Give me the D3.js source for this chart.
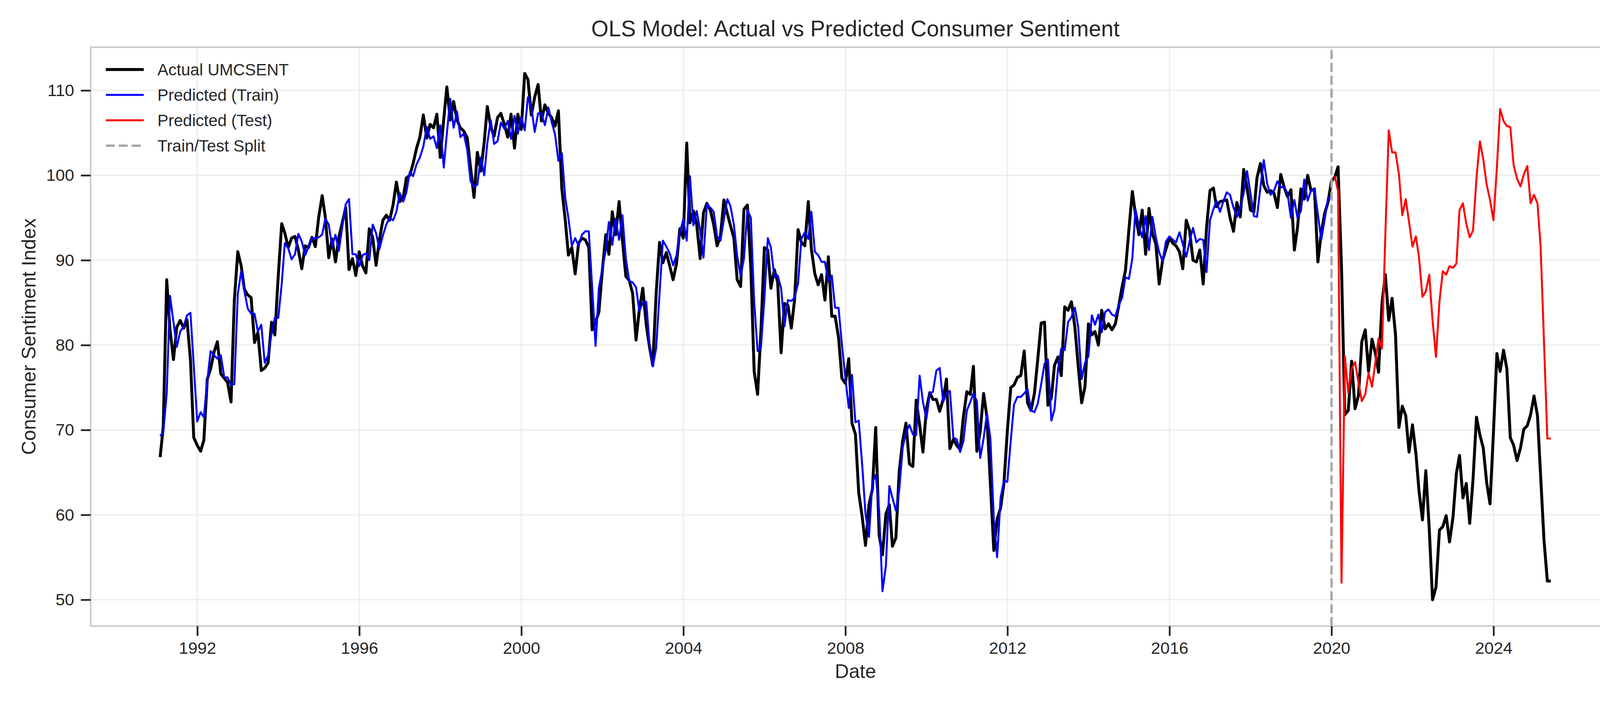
<!DOCTYPE html>
<html>
<head>
<meta charset="utf-8">
<script src="https://cdn.jsdelivr.net/npm/d3@7"></script>
<style>
  body { margin: 0; background: #fff; }
  svg { display: block; font-family: 'Liberation Sans', Arial, sans-serif; }
</style>
</head>
<body>
<div id="chart"></div>
<script>
const startYear = 1991;
const splitYear = 2020;
const yearTicks = [1992, 1996, 2000, 2004, 2008, 2012, 2016, 2020, 2024];
const valueTicks = [50, 60, 70, 80, 90, 100, 110];
const seriesNames = ['Actual UMCSENT', 'Predicted (Train)', 'Predicted (Test)', 'Train/Test Split'];

// monthly index, Jan 1991 - May 2025
const actual = [
  66.8, 70.4, 87.7, 81.8, 78.3, 82.1, 82.9, 82.0, 83.0, 78.3, 69.1, 68.2,
  67.5, 68.8, 76.0, 77.2, 79.2, 80.4, 76.6, 76.1, 75.6, 73.3, 85.3, 91.0,
  89.3, 86.6, 85.9, 85.6, 80.3, 81.5, 77.0, 77.3, 77.9, 82.7, 81.2, 88.2,
  94.3, 93.2, 91.5, 92.6, 92.8, 91.2, 89.0, 91.7, 91.5, 92.7, 91.6, 95.1,
  97.6, 95.1, 90.3, 92.5, 89.8, 92.7, 94.4, 96.2, 88.9, 90.2, 88.2, 91.0,
  89.3, 88.5, 93.7, 92.7, 89.4, 92.4, 94.7, 95.3, 94.7, 96.5, 99.2, 96.9,
  97.4, 99.7, 100.0, 101.4, 103.2, 104.5, 107.1, 104.4, 106.0, 105.6, 107.2, 102.1,
  106.6, 110.4, 106.5, 108.7, 106.5, 105.6, 105.2, 104.4, 100.9, 97.4, 102.7, 100.5,
  103.9, 108.1, 105.7, 104.6, 106.8, 107.3, 106.0, 104.5, 107.2, 103.2, 107.2, 105.4,
  112.0, 111.3, 107.1, 109.2, 110.7, 106.4, 108.3, 107.3, 106.8, 105.8, 107.6, 98.4,
  94.7, 90.6, 91.5, 88.4, 92.0, 92.6, 92.4, 91.5, 81.8, 82.7, 83.9, 88.8,
  93.0, 90.7, 95.7, 93.0, 96.9, 92.4, 88.1, 87.6, 86.1, 80.6, 84.2, 86.7,
  82.4, 79.9, 77.6, 86.0, 92.1, 89.7, 90.9, 89.3, 87.7, 89.6, 93.7, 92.6,
  103.8, 94.4, 95.8, 94.2, 90.2, 95.6, 96.7, 95.9, 94.2, 91.7, 92.8, 97.1,
  95.5, 94.1, 92.6, 87.7, 86.9, 96.0, 96.5, 89.1, 76.9, 74.2, 81.6, 91.5,
  91.2, 86.7, 88.9, 87.4, 79.1, 84.9, 84.7, 82.0, 85.4, 93.6, 92.1, 91.7,
  96.9, 91.3, 88.4, 87.1, 88.3, 85.3, 90.4, 83.4, 83.4, 80.9, 76.1, 75.5,
  78.4, 70.8, 69.5, 62.6, 59.8, 56.4, 61.2, 63.0, 70.3, 57.6, 55.3, 60.1,
  61.2, 56.3, 57.3, 65.1, 68.7, 70.8, 66.0, 65.7, 73.5, 70.6, 67.4, 72.5,
  74.4, 73.6, 73.6, 72.2, 73.6, 76.0, 67.8, 68.9, 68.2, 67.7, 71.6, 74.5,
  74.2, 77.5, 67.5, 69.8, 74.3, 71.5, 63.7, 55.8, 59.5, 60.8, 63.7, 69.9,
  75.0, 75.3, 76.2, 76.4, 79.3, 73.2, 72.3, 74.3, 78.3, 82.6, 82.7, 72.9,
  73.8, 77.6, 78.6, 76.4, 84.5, 84.1, 85.1, 82.1, 77.5, 73.2, 75.1, 82.5,
  81.2, 81.6, 80.0, 84.1, 81.9, 82.5, 81.8, 82.5, 84.6, 86.9, 88.8, 93.6,
  98.1, 95.4, 93.0, 95.9, 90.7, 96.1, 93.1, 91.9, 87.2, 90.0, 91.3, 92.6,
  92.0, 91.7, 91.0, 89.0, 94.7, 93.5, 90.0, 89.8, 91.2, 87.2, 93.8, 98.2,
  98.5, 96.3, 96.9, 97.0, 97.1, 95.0, 93.4, 96.8, 95.1, 100.7, 98.5, 95.9,
  95.7, 99.7, 101.4, 98.8, 98.0, 98.2, 97.9, 96.2, 100.1, 98.6, 97.5, 98.3,
  91.2, 93.8, 98.4, 97.2, 100.0, 98.2, 98.4, 89.8, 93.2, 95.5, 96.8, 99.3,
  99.8, 101.0, 89.1, 71.8, 72.3, 78.1, 72.5, 74.1, 80.4, 81.8, 76.9, 80.7,
  79.0, 76.8, 84.9, 88.3, 82.9, 85.5, 81.2, 70.3, 72.8, 71.7, 67.4, 70.6,
  67.2, 62.8, 59.4, 65.2, 58.4, 50.0, 51.5, 58.2, 58.6, 59.9, 56.8, 59.7,
  64.9, 67.0, 62.0, 63.7, 59.0, 64.2, 71.5, 69.4, 67.9, 63.8, 61.3, 69.7,
  79.0, 76.9, 79.4, 77.2, 69.1, 68.2, 66.4, 67.9, 70.1, 70.5, 71.8, 74.0,
  71.7, 64.7, 57.0, 52.2, 52.2
];

// fitted values, Jan 1991 - Dec 2019
const predTrain = [
  69.3, 69.7, 74.3, 85.8, 82.7, 79.8, 81.6, 82.2, 83.5, 83.8, 77.6, 71.0,
  72.1, 71.5, 75.8, 79.3, 78.8, 78.4, 78.8, 76.2, 76.2, 75.3, 75.4, 86.0,
  88.7, 86.4, 84.3, 83.7, 83.7, 81.6, 82.4, 77.9, 78.8, 81.3, 83.2, 83.2,
  87.2, 92.0, 91.4, 90.1, 90.7, 93.1, 92.2, 90.6, 91.6, 92.6, 92.6, 92.7,
  93.0, 94.9, 94.2, 91.6, 93.0, 91.1, 93.9, 96.6, 97.2, 90.7, 90.7, 89.3,
  90.6, 90.8, 90.0, 94.2, 93.2, 91.3, 92.9, 94.2, 95.0, 94.7, 95.7, 97.9,
  96.9, 98.0, 100.4, 99.9, 101.3, 102.1, 103.4, 105.7, 104.3, 104.6, 103.2, 105.9,
  100.9, 104.9, 109.0, 105.6, 107.5, 104.5, 104.9, 103.0, 99.3, 98.6, 98.9, 102.1,
  100.0, 103.8, 106.5, 103.7, 104.0, 106.2, 105.5, 106.4, 104.3, 107.0, 104.9, 106.9,
  105.3, 109.2, 108.1, 105.1, 107.3, 107.3, 105.9, 108.0, 106.3, 104.8, 101.7, 102.6,
  97.3, 95.0, 91.7, 92.6, 91.7, 93.0, 93.4, 93.4, 86.9, 79.9, 86.7, 89.0,
  91.2, 94.5, 91.8, 94.9, 92.4, 95.3, 90.2, 87.5, 87.4, 86.8, 84.0, 85.0,
  85.1, 80.3, 77.5, 79.6, 86.1, 92.3, 91.6, 90.8, 89.4, 90.6, 93.2, 94.8,
  92.3, 99.9, 94.1, 95.8, 93.5, 90.3, 96.6, 96.2, 95.7, 92.8, 92.3, 94.8,
  97.2, 96.4, 94.2, 90.5, 88.1, 90.2, 95.9, 95.0, 85.1, 79.3, 79.7, 85.4,
  92.6, 91.5, 88.0, 88.2, 86.7, 82.2, 85.3, 85.2, 85.6, 87.3, 92.5, 93.3,
  92.5, 95.7, 91.0, 90.6, 89.8, 89.8, 87.5, 88.2, 84.4, 84.4, 80.1, 76.2,
  72.6, 76.5, 70.9, 71.1, 65.9, 60.1, 57.4, 63.8, 64.7, 60.5, 51.0, 54.0,
  63.4, 62.0, 60.5, 62.9, 67.9, 69.7, 70.6, 69.5, 69.4, 76.4, 73.3, 71.3,
  74.3, 74.5, 77.0, 77.3, 73.3, 74.3, 74.6, 69.1, 68.9, 67.4, 68.7, 72.3,
  73.3, 74.3, 73.4, 66.7, 69.0, 71.9, 69.0, 59.5, 55.0, 62.0, 64.0, 63.9,
  68.8, 73.0, 73.9, 73.9, 74.3, 74.8, 72.3, 72.1, 73.1, 75.4, 77.8, 78.3,
  71.1, 72.4, 77.1, 79.6, 79.4, 82.7, 83.3, 84.4, 82.1, 76.0, 77.9, 78.7,
  83.5, 82.4, 83.6, 81.5, 83.9, 84.2, 83.6, 83.4, 84.7, 85.6, 88.0, 87.8,
  90.2, 96.0, 94.1, 92.7, 95.2, 91.2, 95.1, 92.7, 90.9, 89.9, 92.2, 92.8,
  92.4, 92.1, 93.3, 91.9, 90.4, 92.2, 93.8, 92.1, 92.5, 92.4, 88.6, 94.7,
  96.0, 97.0, 95.7, 96.9, 98.0, 97.7, 96.2, 95.1, 96.2, 97.9, 100.5, 97.9,
  95.2, 95.1, 98.6, 101.8, 99.0, 97.7, 98.2, 99.3, 98.6, 98.6, 97.9, 95.0,
  97.1, 95.0, 95.8, 99.5, 97.0, 98.2, 98.4, 95.4, 92.4, 94.8, 97.3, 97.5
];

// out-of-sample predictions, Jan 2020 - May 2025
const predTest = [
  99.9, 98.1, 52.0, 78.7, 74.4, 77.2, 78.0, 75.6, 73.4, 74.2, 76.7, 75.1,
  78.0, 80.8, 79.6, 92.9, 105.3, 102.7, 102.7, 100.1, 95.3, 97.2, 94.5, 91.6,
  92.8, 90.3, 85.7, 86.3, 88.3, 82.9, 78.6, 85.1, 88.7, 88.3, 89.3, 89.1,
  89.6, 95.9, 96.7, 94.3, 92.7, 93.5, 99.7, 104.0, 101.9, 98.9, 97.1, 94.7,
  100.9, 107.8, 106.4, 105.8, 105.7, 101.2, 99.6, 98.7, 100.1, 101.1, 96.7, 97.7,
  96.7, 91.7, 80.3, 69.0, 69.0
];

// observations are stamped at month end
const monthEnd = (i) => new Date(startYear, i + 1, 0);

function chart ({
  selector: _selector = '#chart',
  width: _width = 4200,
  height: _height = 1800,
  margin: _margin = { top: 120.7, right: 52, bottom: 197, left: 232 },
  textColor: _textColor = '#262626',
  gridColor: _gridColor = '#ebebeb',
  spineColor: _spineColor = '#cccccc',
  colors: _colors = ['#000000', '#0000ff', '#ff0000', '#a6a6a6'],
  widths: _widths = [7.5, 5, 5, 6],
} = {}) {
  const width = _width - _margin.left - _margin.right;
  const height = _height - _margin.top - _margin.bottom;

  const actualData = actual.map((v, i) => ({ date: monthEnd(i), value: v }));
  const trainData = predTrain.map((v, i) => ({ date: monthEnd(i), value: v }));
  const testData = predTest.map((v, i) => ({ date: monthEnd(predTrain.length + i), value: v }));

  const svg = d3.select(_selector).append('svg')
    .attr('width', _width)
    .attr('height', _height);

  const g = svg.append('g')
    .attr('transform', `translate(${_margin.left}, ${_margin.top})`);

  // set the ranges, 5% padding like the plotting default
  const [d0, d1] = d3.extent(actualData, (d) => d.date);
  const dPad = (d1 - d0) * 0.05;
  const x = d3.scaleTime()
    .domain([new Date(+d0 - dPad), new Date(+d1 + dPad)])
    .range([0, width]);

  const [v0, v1] = d3.extent(actual.concat(predTrain, predTest));
  const vPad = (v1 - v0) * 0.05;
  const y = d3.scaleLinear()
    .domain([v0 - vPad, v1 + vPad])
    .range([height, 0]);

  const yearDates = yearTicks.map((yr) => new Date(yr, 0, 1));

  // grid
  g.append('g').selectAll('line')
    .data(yearDates)
    .enter().append('line')
    .attr('x1', (d) => x(d)).attr('x2', (d) => x(d))
    .attr('y1', 0).attr('y2', height)
    .attr('stroke', _gridColor).attr('stroke-width', 3);

  g.append('g').selectAll('line')
    .data(valueTicks)
    .enter().append('line')
    .attr('x1', 0).attr('x2', width)
    .attr('y1', (d) => y(d)).attr('y2', (d) => y(d))
    .attr('stroke', _gridColor).attr('stroke-width', 3);

  // lines
  const line = d3.line()
    .x((d) => x(d.date))
    .y((d) => y(d.value));

  [actualData, trainData, testData].forEach((data, i) => {
    g.append('path')
      .datum(data)
      .attr('fill', 'none')
      .attr('stroke', _colors[i])
      .attr('stroke-width', _widths[i])
      .attr('stroke-linejoin', 'round')
      .attr('d', line);
  });

  // split marker
  const xs = x(new Date(splitYear, 0, 1));
  g.append('line')
    .attr('x1', xs).attr('x2', xs)
    .attr('y1', height).attr('y2', 0)
    .attr('stroke', _colors[3])
    .attr('stroke-width', _widths[3])
    .attr('stroke-dasharray', '23 10');

  // spines
  g.append('rect')
    .attr('width', width)
    .attr('height', height)
    .attr('fill', 'none')
    .attr('stroke', _spineColor)
    .attr('stroke-width', 4.2);

  // add the x Axis
  const xAxis = g.append('g')
    .attr('transform', `translate(0,${height})`)
    .call(d3.axisBottom(x)
      .tickValues(yearDates)
      .tickFormat(d3.timeFormat('%Y'))
      .tickSize(25)
      .tickPadding(15));

  // add the y Axis
  const yAxis = g.append('g')
    .call(d3.axisLeft(y)
      .tickValues(valueTicks)
      .tickSize(25)
      .tickPadding(17));

  [xAxis, yAxis].forEach((ax) => {
    ax.select('.domain').remove();
    ax.selectAll('.tick line')
      .attr('stroke', _textColor)
      .attr('stroke-width', 4.5);
    ax.selectAll('.tick text')
      .attr('fill', _textColor)
      .style('font-size', '43px')
      .style('font-family', "'Liberation Sans', Arial, sans-serif");
  });

  // labels
  svg.append('text')
    .attr('x', _margin.left + width / 2)
    .attr('y', 93)
    .attr('text-anchor', 'middle')
    .attr('fill', _textColor)
    .style('font-size', '57px')
    .text('OLS Model: Actual vs Predicted Consumer Sentiment');

  svg.append('text')
    .attr('x', _margin.left + width / 2)
    .attr('y', 1736)
    .attr('text-anchor', 'middle')
    .attr('fill', _textColor)
    .style('font-size', '50px')
    .text('Date');

  svg.append('text')
    .attr('transform', `translate(91, ${_margin.top + height / 2}) rotate(-90)`)
    .attr('text-anchor', 'middle')
    .attr('fill', _textColor)
    .style('font-size', '50px')
    .text('Consumer Sentiment Index');

  // legend
  const legend = svg.append('g')
    .attr('transform', 'translate(271, 178)');

  const item = legend.selectAll('g')
    .data(seriesNames)
    .enter().append('g')
    .attr('transform', (d, i) => `translate(0, ${i * 65})`);

  item.append('line')
    .attr('x1', 0).attr('x2', 97)
    .attr('stroke', (d, i) => _colors[i])
    .attr('stroke-width', (d, i) => _widths[i])
    .attr('stroke-dasharray', (d, i) => (i === 3 ? '23 10' : null));

  item.append('text')
    .attr('x', 132)
    .attr('dy', '0.36em')
    .attr('fill', _textColor)
    .style('font-size', '42px')
    .text((d) => d);

  return svg;
}

chart();
</script>
</body>
</html>
